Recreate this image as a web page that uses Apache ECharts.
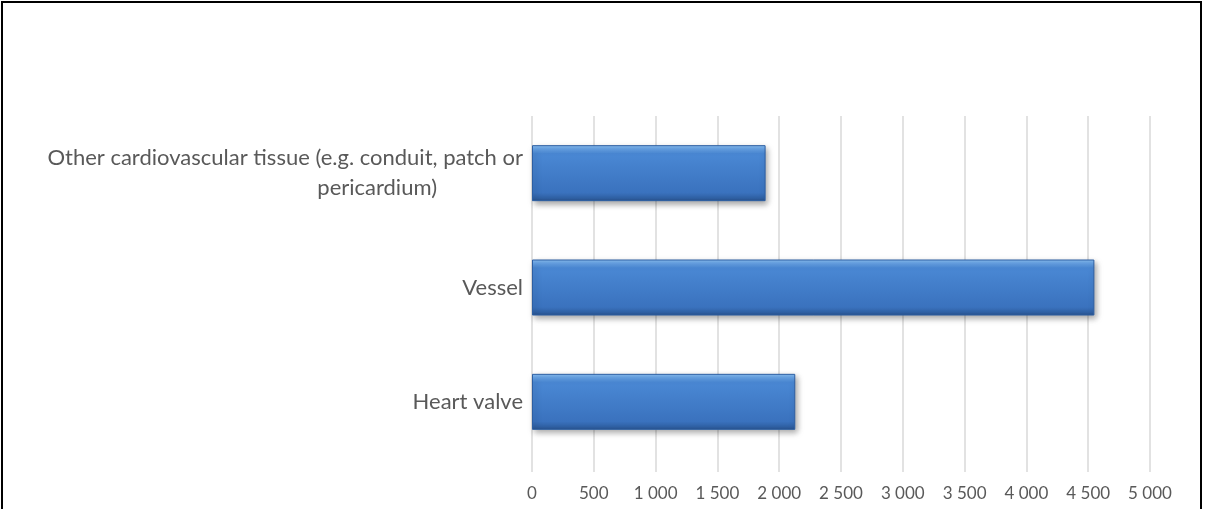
<!DOCTYPE html>
<html>
<head>
<meta charset="utf-8">
<script src="https://cdn.jsdelivr.net/npm/echarts@6/dist/echarts.min.js"></script>
<style>
  html, body { margin: 0; padding: 0; background: #fff; }
  #frame { position: absolute; left: 1px; top: 1px; width: 1201px; height: 530px; border: 2px solid #000; box-sizing: border-box; }
  #chart { position: absolute; left: 0; top: 0; width: 1206px; height: 509px; }
</style>
</head>
<body>
<div id="frame"></div>
<div id="chart"></div>
<script>
// categories listed bottom to top, as the value axis reads
const categories = ["Heart valve", "Vessel", "Other cardiovascular tissue (e.g. conduit, patch or pericardium)"];
const values = [2130, 4550, 1890];
const tickValues = [0, 500, 1000, 1500, 2000, 2500, 3000, 3500, 4000, 4500, 5000];

const chart = echarts.init(document.getElementById("chart"));

const fmtThousands = (v) => String(v).replace(/\B(?=(\d{3})+(?!\d))/g, " ");

const barColor = new echarts.graphic.LinearGradient(0, 0, 0, 1, [
  { offset: 0, color: "#8cc0f2" },
  { offset: 0.06, color: "#6aa6e8" },
  { offset: 0.15, color: "#4a88d4" },
  { offset: 0.85, color: "#3a72be" },
  { offset: 0.95, color: "#2f60a3" },
  { offset: 1, color: "#274f88" },
]);

const labelFont = "Lato";

const options = {
  animation: false,
  textStyle: { fontFamily: labelFont },
  grid: { left: 532, right: 56, top: 116, bottom: 50 },
  xAxis: {
    type: "value",
    min: 0,
    max: 5000,
    interval: 500,
    axisLine: { show: false },
    axisTick: { show: true, length: 13, lineStyle: { color: "#d9d9d9", width: 1.5 } },
    splitLine: { lineStyle: { color: "#d9d9d9", width: 1.5 } },
    axisLabel: {
      color: "#595959",
      fontSize: 17,
      margin: 26,
      formatter: (v) => (tickValues.includes(v) ? fmtThousands(v) : ""),
    },
  },
  yAxis: {
    type: "category",
    data: categories,
    axisLine: { show: false },
    axisTick: { show: false },
    axisLabel: {
      color: "#595959",
      fontSize: 22,
      margin: 9,
      formatter: (v) => {
        if (v.length > 40) {
          return "{a|Other cardiovascular tissue (e.g. conduit, patch or}\n{b|pericardium)}";
        }
        return v;
      },
      rich: {
        a: { color: "#595959", fontSize: 22, lineHeight: 30, fontFamily: labelFont },
        b: { color: "#595959", fontSize: 22, lineHeight: 30, fontFamily: labelFont, padding: [0, 86, 0, 0] },
      },
    },
  },
  series: [
    {
      type: "bar",
      data: values,
      barWidth: 56,
      itemStyle: {
        color: barColor,
        borderColor: "#2d5fa3",
        borderWidth: 1,
        shadowBlur: 6,
        shadowOffsetX: 2,
        shadowOffsetY: 3,
        shadowColor: "rgba(0, 0, 0, 0.35)",
      },
    },
  ],
};

chart.setOption(options);
</script>
</body>
</html>
